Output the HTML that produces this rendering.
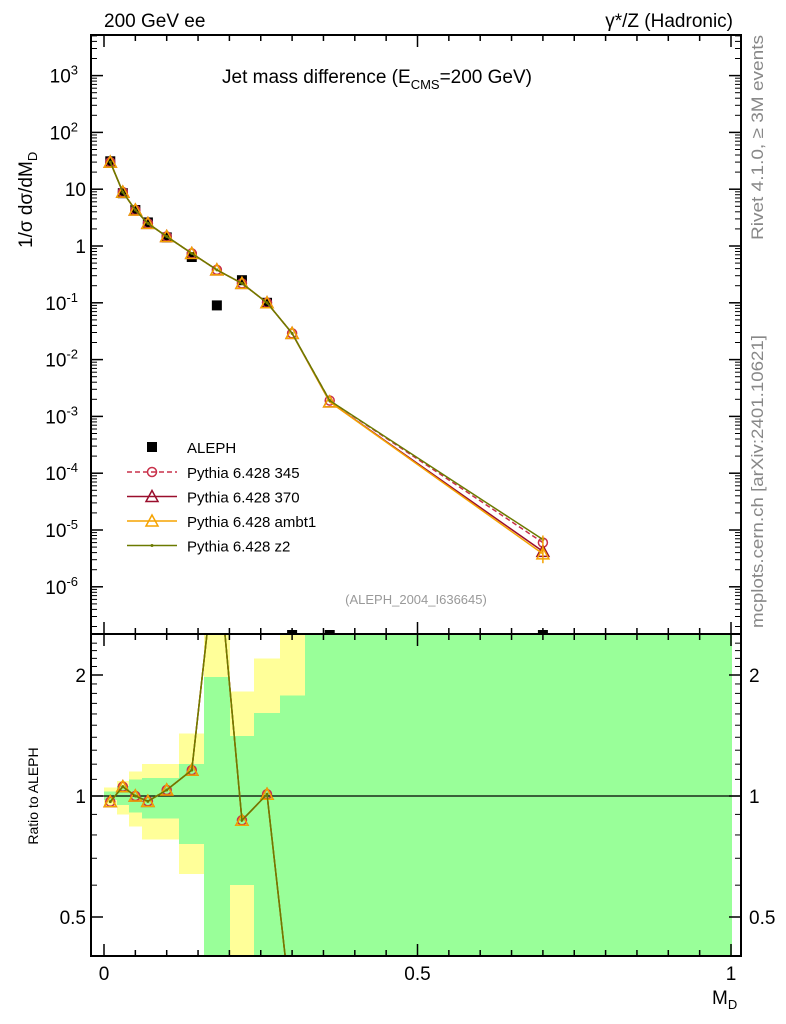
<!DOCTYPE html>
<html><head><meta charset="utf-8"><style>
html,body{margin:0;padding:0;background:#fff;width:786px;height:1024px;overflow:hidden;}
svg{display:block;font-family:"Liberation Sans",Arial,sans-serif;}
</style></head><body>
<svg id="c" width="786" height="1024" viewBox="0 0 786 1024">
<defs>
<clipPath id="cm"><rect x="91" y="35" width="650" height="599"/></clipPath>
<clipPath id="cr"><rect x="91" y="634" width="650" height="322"/></clipPath>
</defs>
<g id="bands" clip-path="url(#cr)" shape-rendering="crispEdges"></g>
<g id="series"></g>
<rect x="91" y="35" width="650" height="599" fill="none" stroke="#000" stroke-width="2"/>
<rect x="91" y="634" width="650" height="322" fill="none" stroke="#000" stroke-width="2"/>
<g id="axes"></g>
<text x="104" y="27" font-size="19">200 GeV ee</text>
<text x="733" y="27" font-size="19" text-anchor="end">γ*/Z (Hadronic)</text>
<text x="222" y="83" font-size="19">Jet mass difference (E<tspan font-size="13" dy="6">CMS</tspan><tspan dy="-6">=200 GeV)</tspan></text>
<text x="416" y="604" font-size="13" fill="#999" text-anchor="middle">(ALEPH_2004_I636645)</text>
<text transform="translate(32,248) rotate(-90)" font-size="19">1/σ  dσ/dM<tspan font-size="13" dy="5">D</tspan></text>
<text transform="translate(38,796) rotate(-90)" font-size="14" text-anchor="middle">Ratio to ALEPH</text>
<text x="712" y="1004" font-size="19">M<tspan font-size="13" dy="5">D</tspan></text>
<text transform="translate(763,240) rotate(-90)" font-size="17" fill="#888" textLength="205" lengthAdjust="spacingAndGlyphs">Rivet 4.1.0, ≥ 3M events</text>
<text transform="translate(763,628) rotate(-90)" font-size="17" fill="#888" textLength="293" lengthAdjust="spacingAndGlyphs">mcplots.cern.ch [arXiv:2401.10621]</text>
<g id="legend"></g>
</svg>
<script>
const xs = [0.01,0.03,0.05,0.07,0.10,0.14,0.18,0.22,0.26,0.30,0.36,0.70];
const edges = [0,0.02,0.04,0.06,0.08,0.12,0.16,0.20,0.24,0.28,0.32,0.40,1.0];
const aleph = [31,8.5,4.3,2.6,1.42,0.64,0.09,0.25,0.1,null,null,null];
const py345 = [30,8.9,4.3,2.5,1.47,0.74,0.38,0.22,0.1,0.029,0.0019,6e-6];
const py370 = [30,8.9,4.3,2.5,1.47,0.74,0.38,0.22,0.1,0.029,0.0018,4.2e-6];
const pyambt1 = [30,8.9,4.3,2.5,1.47,0.74,0.38,0.22,0.1,0.029,0.0018,3.8e-6];
const pyz2 = [30,8.9,4.3,2.5,1.47,0.74,0.38,0.22,0.1,0.029,0.0019,6.8e-6];
const ratioMC = [0.968,1.055,1.0,0.97,1.035,1.16,4.2,0.87,1.01,0.28,0.1,0.1];
const greenLo = [0.977,0.95,0.91,0.88,0.88,0.76,0.3,0.6,0.3,0.3,0.3,0.3];
const greenHi = [1.025,1.06,1.10,1.11,1.11,1.2,1.98,1.41,1.61,1.78,3,3];
const yellowLo = [0.95,0.90,0.84,0.78,0.78,0.64,0.3,0.3,0.3,0.3,0.3,0.3];
const yellowHi = [1.05,1.09,1.15,1.2,1.2,1.43,3,1.82,2.2,3,3,3];
const mainTicks = ["10<tspan dy='-8' font-size='13'>-6</tspan>","10<tspan dy='-8' font-size='13'>-5</tspan>","10<tspan dy='-8' font-size='13'>-4</tspan>","10<tspan dy='-8' font-size='13'>-3</tspan>","10<tspan dy='-8' font-size='13'>-2</tspan>","10<tspan dy='-8' font-size='13'>-1</tspan>","1","10","10<tspan dy='-8' font-size='13'>2</tspan>","10<tspan dy='-8' font-size='13'>3</tspan>"];
const mainTickExp = [-6,-5,-4,-3,-2,-1,0,1,2,3];
const ratioTicks = [0.5,1,2];
const xTicks = [0,0.5,1];

const NS='http://www.w3.org/2000/svg';
const X = v => 104 + v*627;
const Y = v => 246 - Math.log10(v)*56.8;
const R = v => 796 - Math.log2(v)*121;
function mk(tag, attrs, parent){const e=document.createElementNS(NS,tag);for(const k in attrs)e.setAttribute(k,attrs[k]);parent.appendChild(e);return e;}
const bands=document.getElementById('bands'), ser=document.getElementById('series'), ax=document.getElementById('axes'), leg=document.getElementById('legend');

for(let i=0;i<xs.length;i++){
  let r=mk('rect',{x:Math.round(X(edges[i])),width:Math.round(X(edges[i+1]))-Math.round(X(edges[i]))+1,y:R(yellowHi[i]),height:R(yellowLo[i])-R(yellowHi[i]),fill:'#ffff99'},bands);
  
  
}
for(let i=0;i<xs.length;i++){
  let r=mk('rect',{x:Math.round(X(edges[i])),width:Math.round(X(edges[i+1]))-Math.round(X(edges[i]))+1,y:R(greenHi[i]),height:R(greenLo[i])-R(greenHi[i]),fill:'#99ff99'},bands);
  
  
}
let ul=mk('line',{x1:91,x2:741,y1:R(1),y2:R(1),stroke:'#000','stroke-width':1.2},ser);



for(let i=0;i<mainTickExp.length;i++){
  const y=Y(Math.pow(10,mainTickExp[i]));
  mk('line',{x1:91,x2:103,y1:y,y2:y,stroke:'#000','stroke-width':1.5},ax);
  mk('line',{x1:729,x2:741,y1:y,y2:y,stroke:'#000','stroke-width':1.5},ax);
  for(let m=2;m<10;m++){const ym=Y(m*Math.pow(10,mainTickExp[i]));if(ym>35){mk('line',{x1:91,x2:97,y1:ym,y2:ym,stroke:'#000'},ax);mk('line',{x1:735,x2:741,y1:ym,y2:ym,stroke:'#000'},ax);}}
  const t=mk('text',{x:mainTickExp[i]>=0&&mainTickExp[i]<2?86:78,y:y+7,'font-size':19,'text-anchor':'end'},ax);
  t.innerHTML=mainTicks[i];
  
  
}
for(let e=-7;e<=-6;e++)for(let m=2;m<10;m++){const ym=Y(m*Math.pow(10,e));if(ym<634&&ym>587){mk('line',{x1:91,x2:97,y1:ym,y2:ym,stroke:'#000'},ax);mk('line',{x1:735,x2:741,y1:ym,y2:ym,stroke:'#000'},ax);}}
for(let i=0;i<=20;i++){const x=X(i*0.05);const big=i%10==0;
  mk('line',{x1:x,x2:x,y1:35,y2:big?47:41,stroke:'#000','stroke-width':1.5},ax);
  mk('line',{x1:x,x2:x,y1:634,y2:big?622:628,stroke:'#000','stroke-width':1.5},ax);
  mk('line',{x1:x,x2:x,y1:956,y2:big?944:950,stroke:'#000','stroke-width':1.5},ax);
  mk('line',{x1:x,x2:x,y1:634,y2:big?646:640,stroke:'#000','stroke-width':1.5},ax);}
for(const v of xTicks){const t=mk('text',{x:X(v),y:980,'font-size':19,'text-anchor':'middle'},ax);t.textContent=String(v);
  
  }
for(const v of ratioTicks){const y=R(v);
  mk('line',{x1:91,x2:103,y1:y,y2:y,stroke:'#000','stroke-width':1.5},ax);
  mk('line',{x1:729,x2:741,y1:y,y2:y,stroke:'#000','stroke-width':1.5},ax);
  const t=mk('text',{x:86,y:y+7,'font-size':19,'text-anchor':'end'},ax);t.textContent=String(v);
  
  
  const t2=mk('text',{x:749,y:y+7,'font-size':19},ax);t2.textContent=String(v);
  
  }
for(let v=0.4;v<2.5;v+=0.1){if(Math.abs(v*10-Math.round(v*10))<1e-6&&[5,10,20].indexOf(Math.round(v*10))<0){const y=R(v);if(y>634&&y<956){mk('line',{x1:91,x2:97,y1:y,y2:y,stroke:'#000'},ax);mk('line',{x1:735,x2:741,y1:y,y2:y,stroke:'#000'},ax);}}}

const sers=[
  {name:'Pythia 6.428 345',vals:py345,col:'#c8304a',dash:'5,3',mark:'circle'},
  {name:'Pythia 6.428 370',vals:py370,col:'#9a0e2c',dash:'',mark:'tri'},
  {name:'Pythia 6.428 ambt1',vals:pyambt1,col:'#f5a300',dash:'',mark:'tri'},
  {name:'Pythia 6.428 z2',vals:pyz2,col:'#6b7a00',dash:'',mark:'dot'}];
function marker(type,x,y,col,g){
  if(type=='circle')mk('circle',{cx:x,cy:y,r:4.5,fill:'none',stroke:col,'stroke-width':1.5},g);
  else if(type=='tri')mk('path',{d:`M${x},${y-6}L${x+6},${y+5}L${x-6},${y+5}Z`,fill:'none',stroke:col,'stroke-width':1.5},g);
  else mk('circle',{cx:x,cy:y,r:1.5,fill:col},g);
}
const ga=mk('g',{'clip-path':'url(#cm)'},ser);


for(let i=0;i<xs.length;i++){
  if(aleph[i]==null){mk('rect',{x:X(xs[i])-5,y:630,width:10,height:5,fill:'#000'},ser);continue;}
  mk('rect',{x:X(xs[i])-5,y:Y(aleph[i])-5,width:10,height:10,fill:'#000'},ga);
}
sers.forEach((s,k)=>{
  const g=mk('g',{},ser);
  
  
  const gm=mk('g',{'clip-path':'url(#cm)'},g);
  mk('polyline',{points:xs.map((x,i)=>X(x)+','+Y(s.vals[i])).join(' '),fill:'none',stroke:s.col,'stroke-width':1.5,'stroke-dasharray':s.dash},gm);
  xs.forEach((x,i)=>marker(s.mark,X(x),Y(s.vals[i]),s.col,gm));
  const gr=mk('g',{'clip-path':'url(#cr)'},g);
  mk('polyline',{points:xs.map((x,i)=>X(x)+','+R(ratioMC[i])).join(' '),fill:'none',stroke:s.col,'stroke-width':1.5,'stroke-dasharray':s.dash},gr);
  xs.forEach((x,i)=>marker(s.mark,X(x),R(ratioMC[i]),s.col,gr));
  const ly=472+k*24.5;
  mk('line',{x1:127,x2:177,y1:ly,y2:ly,stroke:s.col,'stroke-width':1.5,'stroke-dasharray':s.dash},leg);
  marker(s.mark,152,ly,s.col,leg);
  const t=mk('text',{x:187,y:ly+6,'font-size':15},leg);t.textContent=s.name;
  
  
});
mk('line',{x1:X(0.7),x2:X(0.7),y1:Y(2.6e-6),y2:Y(8e-6),stroke:'#f5a300','stroke-width':1.5},ser);
mk('rect',{x:147,y:442,width:10,height:10,fill:'#000'},leg);
const lt=mk('text',{x:187,y:453,'font-size':15},leg);lt.textContent='ALEPH';


</script>
</body></html>
